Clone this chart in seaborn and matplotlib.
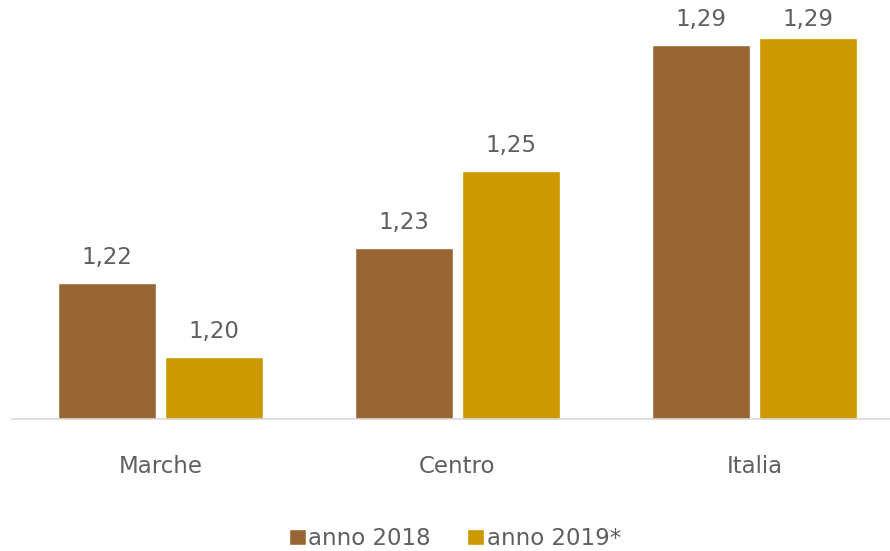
import matplotlib
matplotlib.use("Agg")
import matplotlib.pyplot as plt
import seaborn as sns
import pandas as pd

# data
categories = ["Marche", "Centro", "Italia"]
series_names = ["anno 2018", "anno 2019*"]
values_2018 = [1.221, 1.231, 1.289]
values_2019 = [1.200, 1.253, 1.291]
colors = ["#996633", "#CC9900"]

df = pd.DataFrame({
    "Area": categories * 2,
    "Anno": [series_names[0]] * 3 + [series_names[1]] * 3,
    "Valore": values_2018 + values_2019,
})

sns.set_style("white")
plt.rcParams["font.family"] = ["DejaVu Sans"]
text_col = "#5f5f5f"

fig = plt.figure(figsize=(8.9, 5.51), dpi=100)
# axes a little wider than the figure so the baseline runs to the right edge
ax = fig.add_axes([0.0135, 0.2396, 1.001, 0.724])

sns.barplot(data=df, x="Area", y="Valore", hue="Anno", palette=colors,
            saturation=1, width=0.72, gap=0.08, ax=ax, legend=True)

ax.set_ylim(1.1823, 1.296)
ax.set_xlim(-0.5, 2.5)

# data labels (like Excel, keep them inside the plot area at the top)
label_cap = ax.get_ylim()[1] - 0.007
for cont in ax.containers:
    labels = [f"{b.get_height():.2f}".replace(".", ",") for b in cont]
    anns = ax.bar_label(cont, labels=labels, padding=10, fontsize=16.5, color=text_col)
    for a in anns:
        x, y = a.xy
        a.xy = (x, min(y, label_cap))

for s in ["top", "right", "left"]:
    ax.spines[s].set_visible(False)
ax.spines["bottom"].set_color("#D9D9D9")
ax.spines["bottom"].set_linewidth(1.2)

ax.set_yticks([])
ax.set_xlabel("")
ax.set_ylabel("")
ax.tick_params(axis="x", length=0, pad=26, labelsize=16.5, labelcolor=text_col)

ax.legend(loc="lower center", bbox_to_anchor=(0.497, -0.38), ncol=2, frameon=False,
          fontsize=16.5, labelcolor=text_col, handlelength=0.75, handleheight=0.75,
          handletextpad=0.1, columnspacing=1.6)

fig.savefig("out.png", dpi=100)
